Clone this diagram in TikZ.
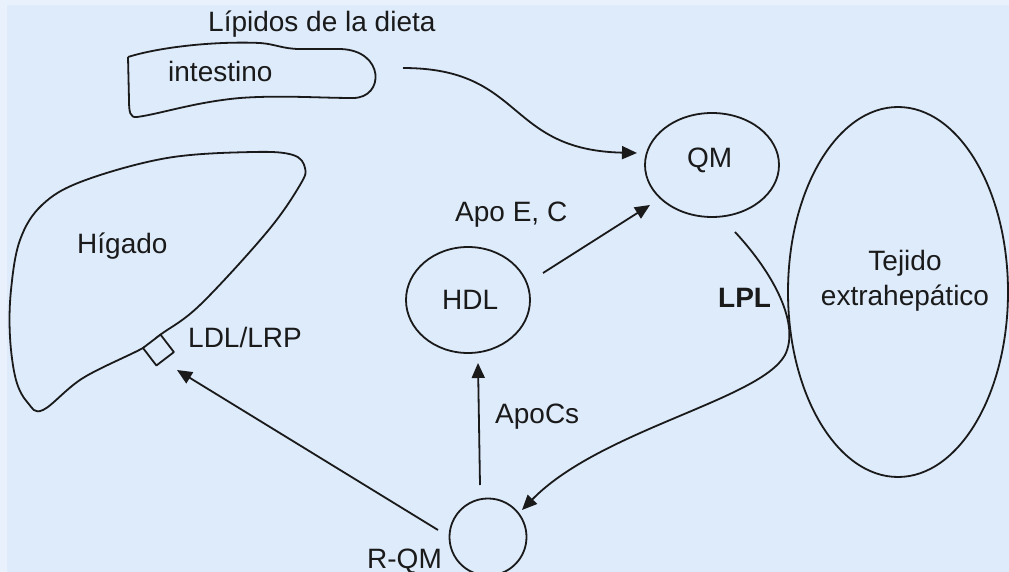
\documentclass[tikz,border=0pt]{standalone}
\usepackage{fontspec}
\setmainfont{Liberation Sans}
\usetikzlibrary{shapes.geometric,arrows.meta}
\definecolor{bg}{HTML}{DDEBFB}
\definecolor{bgedge}{HTML}{E9F2FC}
\definecolor{ink}{HTML}{1A1A1A}
\begin{document}
\begin{tikzpicture}[x=1pt,y=-1pt,
  lbl/.style={font=\fontsize{28}{34}\selectfont, inner sep=0pt, text=ink},
  shapeline/.style={draw=ink, line width=1.8pt, line join=round},
  blob/.style={draw=ink, line width=1.8pt, inner sep=0pt},
  arr/.style={draw=ink, line width=1.8pt, -{Triangle[length=15pt,width=13pt]}}]
\useasboundingbox (0,0) rectangle (1009,572);
\fill[bg] (0,0) rectangle (1009,572);
\fill[bgedge] (0,0) rectangle (7,572);
\fill[bgedge] (0,0) rectangle (1009,5);

% intestine
\draw[shapeline] (128,57) .. controls (160,47) and (215,41) .. (260,43)
  .. controls (275,44) and (283,49) .. (300,49)
  -- (340,49) .. controls (385,50) and (385,98) .. (353,98)
  .. controls (320,98) and (280,95) .. (240,98)
  .. controls (195,102) and (160,114) .. (137,117)
  .. controls (130,118) and (129,112) .. (129,100) -- (128,57);
\node[lbl, anchor=base west] (intestino) at (168,82) {intestino};
\node[lbl, anchor=base west] (lipidos) at (208,32) {Lípidos de la dieta};

% liver
\draw[shapeline] plot[smooth cycle, tension=0.6] coordinates {
  (305,168) (293,155) (253,152) (167,158) (83,181) (42,205) (20,240)
  (11,290) (10,337) (16,380) (28,403) (43,410) (83,378)
  (143,348) (160.5,334.6) (200,305) (267,232) (300,185)};
\draw[shapeline, fill=bg] (143,348) -- (160.5,334.6) -- (173.9,352.1) -- (156.4,365.5) -- cycle;
\coordinate (recep) at (177,370);
\node[lbl, anchor=base west] (higado) at (77,253) {Hígado};
\node[lbl, anchor=base west] (ldl) at (188,347) {LDL/LRP};

% particles
\node[blob, ellipse, minimum width=134pt, minimum height=104pt] (qm) at (712,165) {};
\node[lbl, anchor=base west] (qmt) at (687,168) {QM};
\node[blob, ellipse, minimum width=124pt, minimum height=106pt] (hdl) at (468,300) {};
\node[lbl, anchor=base west] (hdlt) at (442,309) {HDL};
\node[blob, circle, minimum size=77pt] (rqm) at (488,537) {};
\node[lbl, anchor=base west] (rqmt) at (367,568) {R-QM};
\node[blob, ellipse, minimum width=220pt, minimum height=370pt] (tejido) at (898,292) {};
\node[lbl, anchor=base] (tej1) at (905,270) {Tejido};
\node[lbl, anchor=base] (tej2) at (905,305) {extrahepático};

\node[lbl, anchor=base west] (apoec) at (455,222) {Apo E, C};
\node[lbl, anchor=base west] (apocs) at (495,423) {ApoCs};
\node[lbl, anchor=base west, font=\bfseries\fontsize{28}{34}\selectfont] (lpl) at (718,307) {LPL};

% connectors
\coordinate (intEnd) at (403,68);
\coordinate (qmIn) at (637,153);
\draw[arr] (intEnd) .. controls (525,68) and (505,150) .. (qmIn);

\coordinate (hdlOut) at (543,273);
\coordinate (qmIn2) at (650,205);
\draw[arr] (hdlOut) -- (qmIn2);

\coordinate (rqmTop) at (480,485);
\coordinate (hdlIn) at (478,363);
\draw[arr] (rqmTop) -- (hdlIn);

\coordinate (rqmLeft) at (438,530);
\draw[arr] (rqmLeft) -- (recep);

\coordinate (qmOut) at (735,232);
\coordinate (rqmIn) at (522,510);
\draw[arr] (qmOut) .. controls (775,275) and (800,325) .. (785,355)
  .. controls (760,400) and (600,430) .. (rqmIn);
\end{tikzpicture}
\end{document}
